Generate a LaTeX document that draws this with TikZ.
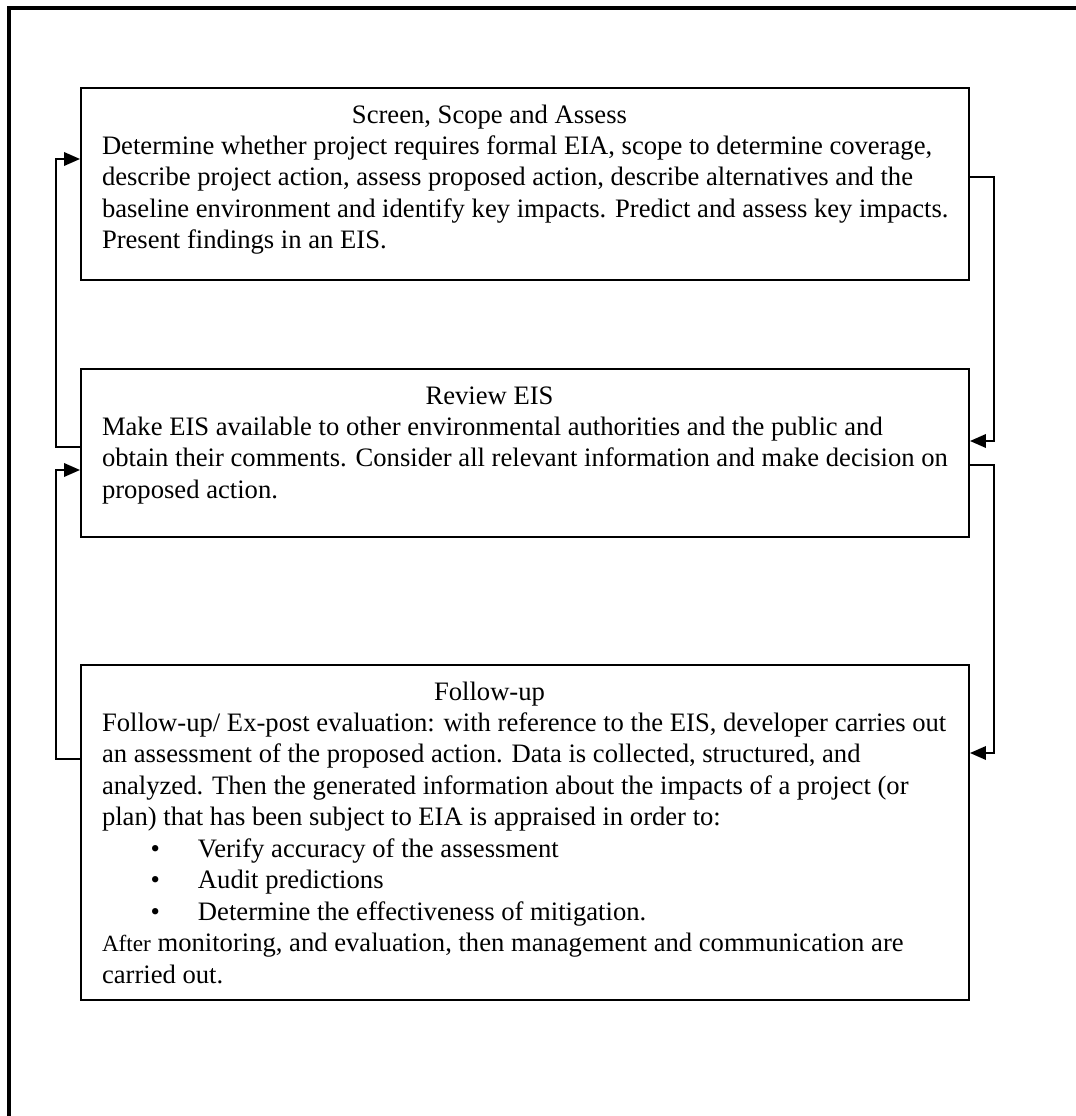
\documentclass[tikz,border=0pt]{standalone}
\usepackage{fontspec}
\setmainfont{Liberation Serif}
\usetikzlibrary{arrows.meta}

\tikzset{
  stage/.style={draw, line width=1.1pt, inner sep=0pt,
    font=\fontsize{15.15}{17.9}\selectfont},
  link/.style={line width=1.1pt, -{Triangle[length=0.32cm,width=0.27cm]}},
}

\begin{document}
\begin{tikzpicture}
\useasboundingbox (0,0) rectangle (21.5,-22.32);
% page frame
\draw[line width=2.3pt] (0.18,-23) -- (0.18,-0.16) -- (22,-0.16);

% the three stages
\node[stage] (screen) at (10.5,-3.68) {\parbox[t][3.84cm][t]{17.76cm}{%
\leftskip=0.42cm \rightskip=0.12cm plus 1fil \hyphenpenalty=10000 \vspace*{0.26cm}%
\makebox[15.5cm][c]{\strut Screen, Scope and Assess}\\
Determine whether project requires formal EIA, scope to determine coverage,\\
describe project action, assess proposed action, describe alternatives and the\\
baseline environment and identify key impacts. Predict and assess key impacts.\\
Present findings in an EIS.}};
\node[stage] (review) at (10.5,-9.06) {\parbox[t][3.36cm][t]{17.76cm}{%
\leftskip=0.42cm \rightskip=0.12cm plus 1fil \hyphenpenalty=10000 \vspace*{0.26cm}%
\makebox[15.5cm][c]{\strut Review EIS}\\
Make EIS available to other environmental authorities and the public and\\
obtain their comments. Consider all relevant information and make decision on\\
proposed action.}};
\node[stage] (followup) at (10.5,-16.65) {\parbox[t][6.7cm][t]{17.76cm}{%
\leftskip=0.42cm \rightskip=0.12cm plus 1fil \hyphenpenalty=10000 \vspace*{0.26cm}%
\makebox[15.5cm][c]{\strut Follow-up}\\
Follow-up/ Ex-post evaluation: with reference to the EIS, developer carries out\\
an assessment of the proposed action. Data is collected, structured, and\\
analyzed. Then the generated information about the impacts of a project (or\\
plan) that has been subject to EIA is appraised in order to:\\
\makebox[1.92cm][l]{\hspace*{0.97cm}\textbullet}Verify accuracy of the assessment\\
\makebox[1.92cm][l]{\hspace*{0.97cm}\textbullet}Audit predictions\\
\makebox[1.92cm][l]{\hspace*{0.97cm}\textbullet}Determine the effectiveness of mitigation.\\
{\fontsize{13.2}{17.9}\selectfont After} monitoring, and evaluation, then management and communication are\\
carried out.}};

% right side, going down
\draw[link] ([yshift=0.14cm]screen.east) -- ++(0.48,0) |- ([yshift=0.24cm]review.east);
\draw[link] ([yshift=-0.24cm]review.east) -- ++(0.48,0) |- ([yshift=1.59cm]followup.east);
% left side, going back up
\draw[link] ([yshift=0.12cm]review.west) -- ++(-0.48,0) |- ([yshift=0.5cm]screen.west);
\draw[link] ([yshift=1.47cm]followup.west) -- ++(-0.48,0) |- ([yshift=-0.34cm]review.west);
\end{tikzpicture}
\end{document}
